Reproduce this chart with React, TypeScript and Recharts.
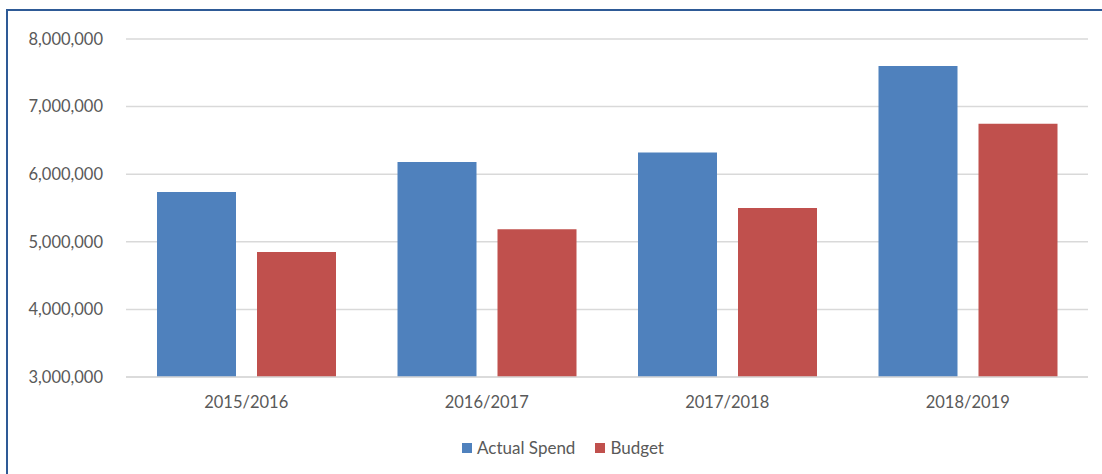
import React from 'react';
import { BarChart, Bar, XAxis, YAxis, CartesianGrid, Legend } from 'recharts';

const categories = ['2015/2016', '2016/2017', '2017/2018', '2018/2019'];
const actualSpend = [5735000, 6180000, 6320000, 7600000];
const budget = [4850000, 5185000, 5500000, 6745000];
const yTicks = [3000000, 4000000, 5000000, 6000000, 7000000, 8000000];

const data = categories.map((c, i) => ({ name: c, actual: actualSpend[i], budget: budget[i] }));

const FONT = 'Lato, "Open Sans", sans-serif';
const TEXT = '#595959';

const fmt = (v: number) => v.toLocaleString('en-US');

const renderLegend = (props: any) => {
  const payload = props.payload || [];
  return (
    <div style={{ display: 'flex', justifyContent: 'center', alignItems: 'center', fontFamily: FONT, fontSize: 17, color: TEXT }}>
      {payload.map((p: any, i: number) => (
        <div key={i} style={{ display: 'flex', alignItems: 'center', marginLeft: i === 0 ? 0 : 20 }}>
          <span style={{ display: 'inline-block', width: 10, height: 10, background: p.color, marginRight: 5 }} />
          <span>{p.value}</span>
        </div>
      ))}
    </div>
  );
};

export default function App() {
  return (
    <div style={{ position: 'absolute', left: 0, top: 0, width: 1102, height: 474, overflow: 'hidden', background: '#fff', fontFamily: FONT }}>
      <div style={{ position: 'absolute', left: 6, top: 9, width: 1200, height: 600, borderLeft: '2px solid #2E5A96', borderTop: '2px solid #2E5A96' }} />
      <div style={{ position: 'absolute', left: 0, top: 0 }}>
        <BarChart
          width={1102}
          height={474}
          data={data}
          margin={{ top: 39, right: 14, left: 46, bottom: 57 }}
          barCategoryGap={31}
          barGap={21}
        >
          <CartesianGrid vertical={false} stroke="#D9D9D9" strokeWidth={1.5} />
          <XAxis
            dataKey="name"
            height={40}
            tickLine={false}
            tickSize={0}
            tickMargin={19}
            axisLine={{ stroke: '#D9D9D9', strokeWidth: 1.5 }}
            tick={{ fill: TEXT, fontSize: 16.5, fontFamily: FONT }}
          />
          <YAxis
            width={80}
            domain={[3000000, 8000000]}
            ticks={yTicks}
            allowDataOverflow
            tickFormatter={fmt}
            tickLine={false}
            axisLine={false}
            tickSize={0}
            tickMargin={23}
            tick={{ fill: TEXT, fontSize: 16.5, fontFamily: FONT }}
          />
          <Legend
            verticalAlign="middle"
            align="center"
            layout="horizontal"
            content={renderLegend}
            wrapperStyle={{ top: 437, left: 12, width: 1102 }}
          />
          <Bar dataKey="actual" name="Actual Spend" fill="#4F81BD" isAnimationActive={false} />
          <Bar dataKey="budget" name="Budget" fill="#C0504D" isAnimationActive={false} />
        </BarChart>
      </div>
    </div>
  );
}
